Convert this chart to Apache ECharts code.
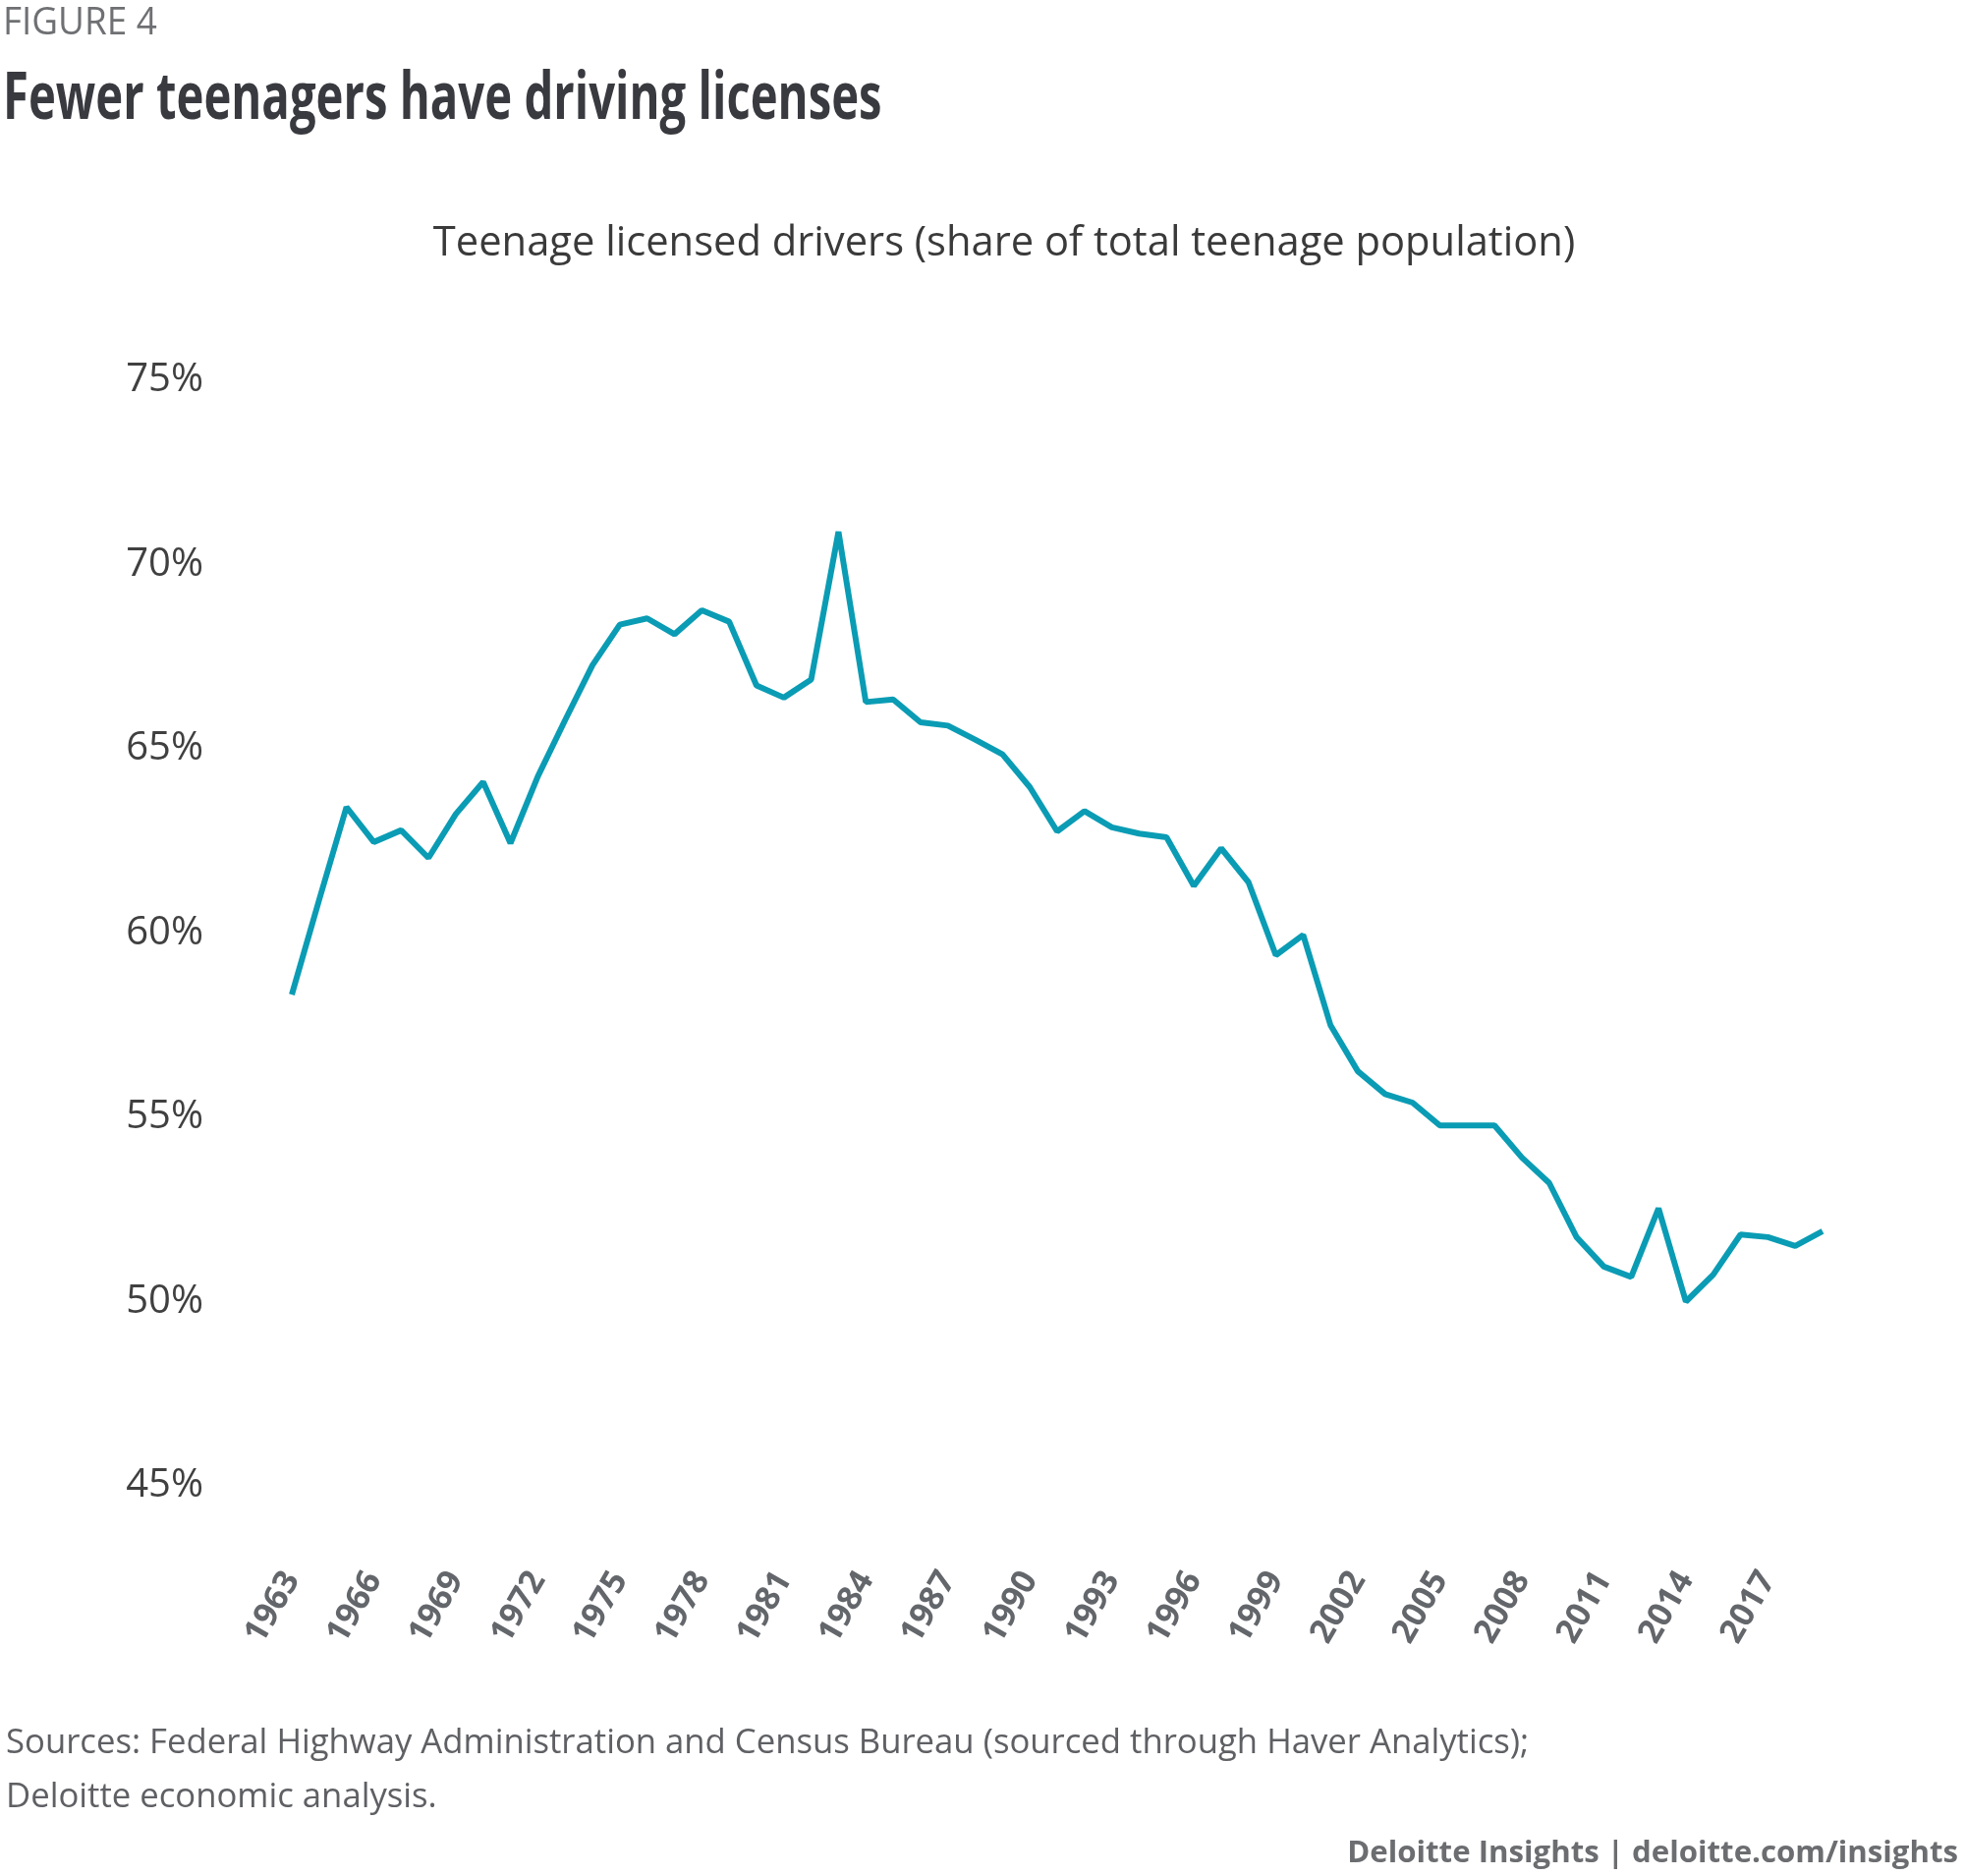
<!DOCTYPE html>
<html>
<head>
<meta charset="utf-8">
<script src="https://cdn.jsdelivr.net/npm/echarts@6/dist/echarts.min.js"></script>
<style>
html,body{margin:0;padding:0;background:#fff;}
#chart{width:2000px;height:1909px;}
</style>
</head>
<body>
<div id="chart"></div>
<script>
const years = [1963,1964,1965,1966,1967,1968,1969,1970,1971,1972,1973,1974,1975,1976,1977,1978,1979,1980,1981,1982,1983,1984,1985,1986,1987,1988,1989,1990,1991,1992,1993,1994,1995,1996,1997,1998,1999,2000,2001,2002,2003,2004,2005,2006,2007,2008,2009,2010,2011,2012,2013,2014,2015,2016,2017,2018,2019];
const licensedShare = [58.33,60.9,63.42,62.47,62.79,62.04,63.23,64.10,62.44,64.25,65.78,67.27,68.37,68.54,68.11,68.76,68.45,66.72,66.39,66.88,70.89,66.27,66.34,65.72,65.63,65.25,64.85,63.96,62.76,63.31,62.87,62.70,62.60,61.28,62.30,61.38,59.40,59.95,57.50,56.25,55.63,55.40,54.78,54.78,54.78,53.91,53.22,51.75,50.95,50.67,52.53,50.00,50.73,51.82,51.75,51.51,51.91];
const yTicks = [45,50,55,60,65,70,75];

const chart = echarts.init(document.getElementById('chart'));
chart.setOption({
  backgroundColor: '#ffffff',
  animation: false,
  graphic: [
    {type: 'text', x: 3, y: 4, scaleX: 0.945, style: {text: 'FIGURE 4', font: 'normal 39px "Open Sans"', fill: '#6f7073', verticalAlign: 'top'}},
    {type: 'text', x: 3, y: 69, scaleX: 0.716, style: {text: 'Fewer teenagers have driving licenses', font: 'bold 66px "Open Sans"', fill: '#393a40', verticalAlign: 'top'}}
  ],
  title: [
    {text: 'Teenage licensed drivers (share of total teenage population)', left: 1017, textAlign: 'center', top: 222, textStyle: {fontFamily: 'Open Sans', fontWeight: 'normal', fontSize: 41.7, color: '#3a3a3a'}},
    {text: 'Sources: Federal Highway Administration and Census Bureau (sourced through Haver Analytics);\nDeloitte economic analysis.', left: 1, top: 1742, textStyle: {fontFamily: 'Open Sans', fontWeight: 'normal', fontSize: 34.7, lineHeight: 55, color: '#5f6064'}},
    {text: 'Deloitte Insights | deloitte.com/insights', right: 2, top: 1866, textStyle: {fontFamily: 'Open Sans', fontWeight: 'bold', fontSize: 31.2, color: '#6b6d70'}}
  ],
  grid: {left: 297, right: 145, top: 387, bottom: 397, containLabel: false},
  xAxis: {
    type: 'category',
    data: years,
    boundaryGap: false,
    axisLine: {show: false},
    axisTick: {show: false},
    splitLine: {show: false},
    axisLabel: {interval: 2, rotate: 60, margin: 90, fontFamily: 'Open Sans', fontWeight: 'bold', fontSize: 34, color: '#63666a'}
  },
  yAxis: {
    type: 'value',
    min: yTicks[0],
    max: yTicks[yTicks.length - 1],
    interval: 5,
    axisLine: {show: false},
    axisTick: {show: false},
    splitLine: {show: false},
    axisLabel: {margin: 90, formatter: '{value}%', fontFamily: 'Open Sans', fontSize: 40, color: '#404040'}
  },
  series: [{
    type: 'line',
    data: licensedShare,
    showSymbol: false,
    lineStyle: {color: '#0a9cb4', width: 6},
    itemStyle: {color: '#0a9cb4'}
  }]
});
</script>
</body>
</html>
